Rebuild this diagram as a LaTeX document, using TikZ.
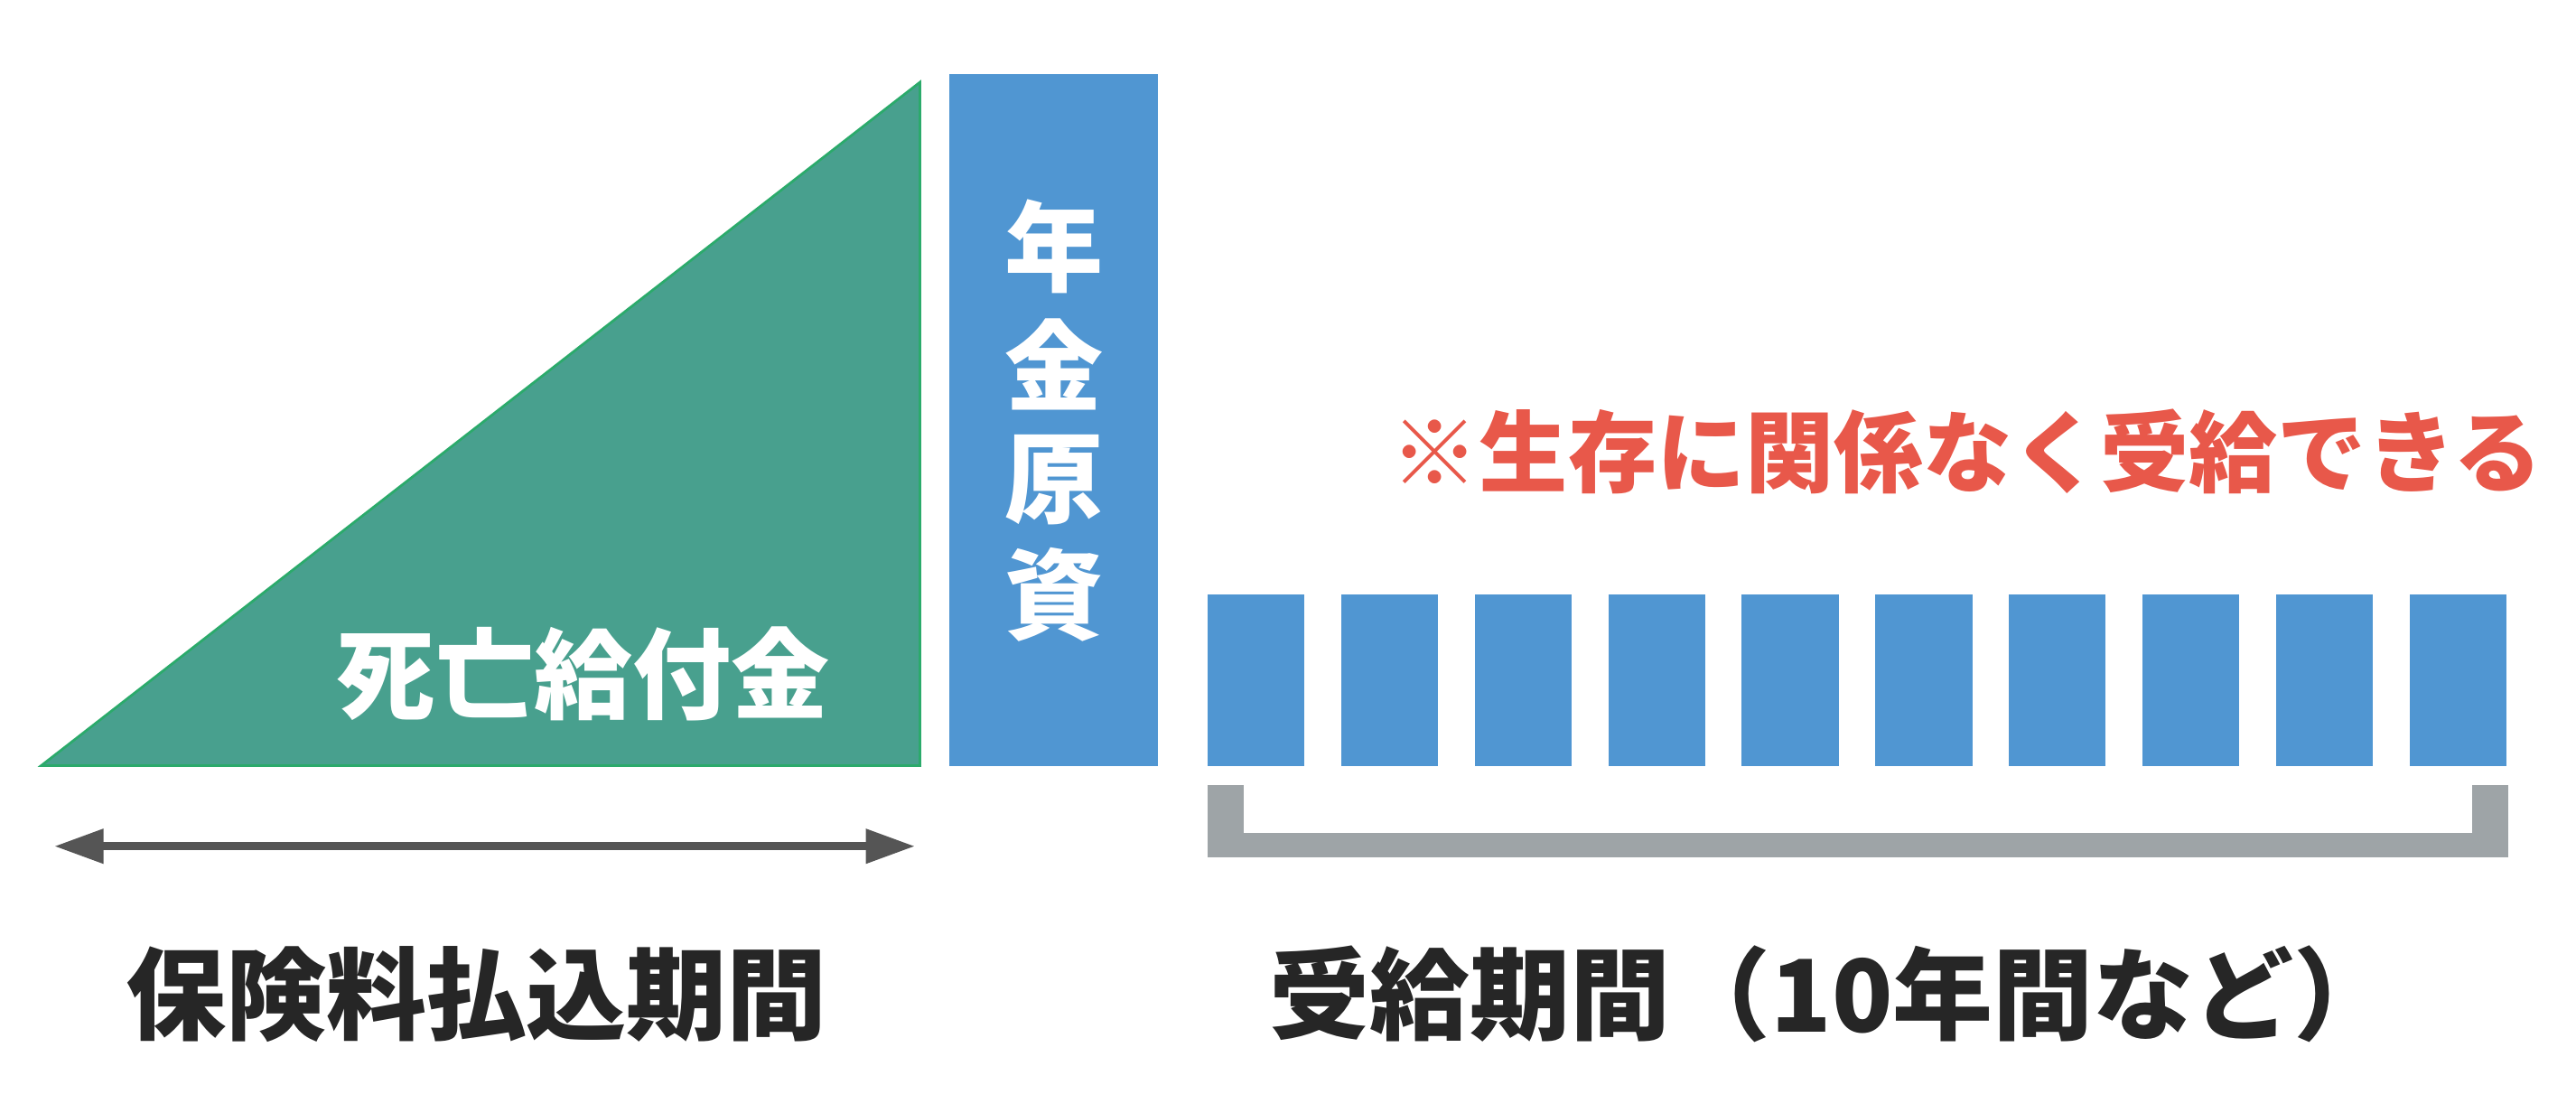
\documentclass[tikz,border=0pt]{standalone}
\usepackage{fontspec}
\newfontfamily\cjk{Noto Sans CJK JP}
\usetikzlibrary{arrows.meta}
\definecolor{tri}{HTML}{48A08E}
\definecolor{triedge}{HTML}{2BAA6B}
\definecolor{blu}{HTML}{5096D2}
\definecolor{redt}{HTML}{E8584A}
\definecolor{gry}{HTML}{9EA4A7}
\definecolor{dk}{HTML}{555555}
\tikzset{
 wt/.style={text=white,font=\cjk\bfseries\fontsize{60}{60}\selectfont,inner sep=0},
 bk/.style={text=black!85,font=\cjk\bfseries\fontsize{61}{62}\selectfont,inner sep=0},
 box/.style={fill=blu,draw=none}
}
\begin{document}
\begin{tikzpicture}[x=1pt,y=-1pt]
\useasboundingbox (0,0) rectangle (1568,677);
\fill[fill=tri,draw=triedge,line width=1.5] (25,466) -- (560,466) -- (560,50) -- cycle;
\node[wt] (death) at (355,410) {死亡給付金};
\fill[box] (578,45) rectangle (705,466);
\node[wt,align=center] (nk) at (641.5,150) {年};
\node[wt] (nk2) at (641.5,222) {金};
\node[wt] (nk3) at (641.5,292) {原};
\node[wt] (nk4) at (641.5,362) {資};
\node[text=redt,font=\cjk\bfseries\fontsize{54}{56}\selectfont,inner sep=0] (note) at (1197,275) {※生存に関係なく受給できる};
\foreach \i in {0,...,9}{
  \fill[box] ({735+81.3*\i},362) rectangle ({794+81.3*\i},466);
}
\fill[gry] (735,478) rectangle (757,522);
\fill[gry] (1505,478) rectangle (1527,522);
\fill[gry] (735,507) rectangle (1527,522);
\coordinate (al) at (33,515);
\coordinate (ar) at (557,515);
\draw[dk,line width=5,{Triangle[length=30,width=20]}-{Triangle[length=30,width=20]}] (al) -- (ar);
\node[bk] (pay) at (290,605) {保険料払込期間};
\node[bk] (recv) at (1115,605) {受給期間（10年間など）};
\end{tikzpicture}
\end{document}
